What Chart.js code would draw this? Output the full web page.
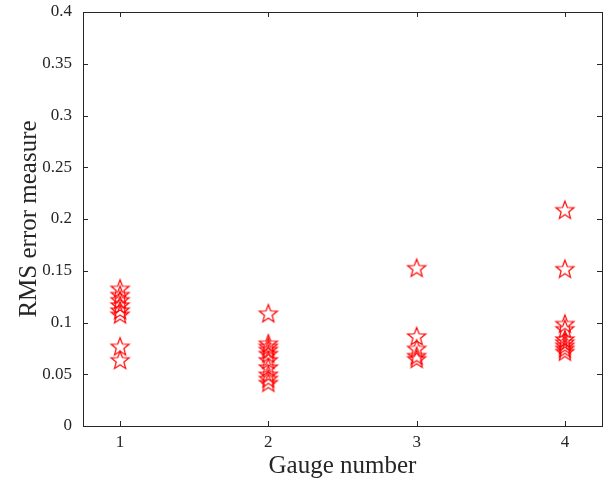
<!DOCTYPE html>
<html>
<head>
<meta charset="utf-8">
<script src="https://cdn.jsdelivr.net/npm/chart.js@4/dist/chart.umd.min.js"></script>
<style>
  html, body { margin: 0; padding: 0; background: #fff; }
  #wrap { width: 613px; height: 482px; }
</style>
</head>
<body>
<div id="wrap"><canvas id="rms-chart"></canvas></div>
<script>
// Data
var gauges = [1, 2, 3, 4];
var gauge1 = [0.133, 0.127, 0.122, 0.117, 0.112, 0.108, 0.077, 0.064];
var gauge2 = [0.109, 0.080, 0.077, 0.074, 0.070, 0.064, 0.057, 0.050, 0.046, 0.042];
var gauge3 = [0.153, 0.087, 0.075, 0.068, 0.065];
var gauge4 = [0.209, 0.152, 0.099, 0.094, 0.084, 0.081, 0.078, 0.075, 0.072];
var yTicks = [0, 0.05, 0.1, 0.15, 0.2, 0.25, 0.3, 0.35, 0.4];

var serif = "'Liberation Serif', 'DejaVu Serif', serif";
var axisColor = '#262626';

// outlined five point star, like matlab's 'p' marker
function starMarker(r, color) {
    var c = document.createElement('canvas');
    var s = 2 * Math.ceil(r) + 4;
    c.width = s; c.height = s;
    var g = c.getContext('2d');
    g.strokeStyle = color;
    g.lineWidth = 1.2;
    g.beginPath();
    for (var i = 0; i < 10; i++) {
        var rad = (i % 2 === 0) ? r : r * 0.42;
        var a = -Math.PI / 2 + i * Math.PI / 5;
        var px = s / 2 + rad * Math.cos(a);
        var py = s / 2 + 1 + rad * Math.sin(a);
        if (i === 0) g.moveTo(px, py); else g.lineTo(px, py);
    }
    g.closePath();
    g.stroke();
    return c;
}

var points = [];
[gauge1, gauge2, gauge3, gauge4].forEach(function (vals, i) {
    vals.forEach(function (v) { points.push({ x: gauges[i], y: v }); });
});

// box + inward ticks on all four sides
var boxPlugin = {
    id: 'box',
    afterDatasetsDraw: function (chart) {
        var ctx = chart.ctx, a = chart.chartArea;
        var xs = chart.scales.x, ys = chart.scales.y;
        var len = 5;
        ctx.save();
        ctx.strokeStyle = axisColor;
        ctx.lineWidth = 1;
        ctx.beginPath();
        gauges.forEach(function (v) {
            var px = Math.round(xs.getPixelForValue(v)) + 0.5;
            ctx.moveTo(px, a.bottom); ctx.lineTo(px, a.bottom - len);
            ctx.moveTo(px, a.top); ctx.lineTo(px, a.top + len);
        });
        yTicks.forEach(function (v) {
            var py = Math.round(ys.getPixelForValue(v)) + 0.5;
            ctx.moveTo(a.left, py); ctx.lineTo(a.left + len, py);
            ctx.moveTo(a.right, py); ctx.lineTo(a.right - len, py);
        });
        ctx.stroke();
        ctx.strokeRect(Math.round(a.left) + 0.5, Math.round(a.top) + 0.5,
            Math.round(a.right - a.left), Math.round(a.bottom - a.top));
        ctx.restore();
    }
};

var ctx = document.getElementById('rms-chart');

var chartOptions = {
    responsive: true,
    maintainAspectRatio: false,
    animation: false,
    layout: { padding: { top: 12, right: 5, left: 0, bottom: 0 } },
    plugins: { legend: { display: false }, tooltip: { enabled: false } },
    scales: {
        x: {
            type: 'linear',
            min: 0.75,
            max: 4.25,
            grid: { display: false, tickLength: 0 },
            border: { display: false },
            afterBuildTicks: function (scale) {
                scale.ticks = gauges.map(function (v) { return { value: v }; });
            },
            afterFit: function (scale) {
                scale.height = 56;
                scale.paddingLeft = 0;
                scale.paddingRight = 0;
            },
            ticks: {
                color: axisColor,
                padding: 6,
                maxRotation: 0,
                font: { family: serif, size: 17 },
                callback: function (v) { return String(v); }
            },
            title: {
                display: true,
                text: 'Gauge number',
                color: axisColor,
                padding: { top: 0, bottom: 1 },
                font: { family: serif, size: 25 }
            }
        },
        y: {
            min: 0,
            max: 0.4,
            grid: { display: false, tickLength: 0 },
            border: { display: false },
            afterBuildTicks: function (scale) {
                scale.ticks = yTicks.map(function (v) { return { value: v }; });
            },
            afterFit: function (scale) {
                scale.width = 83;
                scale.paddingTop = 0;
                scale.paddingBottom = 0;
            },
            ticks: {
                color: axisColor,
                padding: 11,
                font: { family: serif, size: 17 },
                callback: function (v) { return String(Number(v.toFixed(2))); }
            },
            title: {
                display: true,
                text: 'RMS error measure',
                color: axisColor,
                padding: { top: 14, bottom: 0 },
                font: { family: serif, size: 25 }
            }
        }
    }
};

var chartData = {
    datasets: [{
        label: 'RMS error',
        data: points,
        pointStyle: starMarker(9.5, '#ff0000'),
        pointRadius: 10,
        showLine: false
    }]
};

var config = {
    type: 'scatter',
    options: chartOptions,
    data: chartData,
    plugins: [boxPlugin]
};

var rmsChart = new Chart(ctx, config);
</script>
</body>
</html>
